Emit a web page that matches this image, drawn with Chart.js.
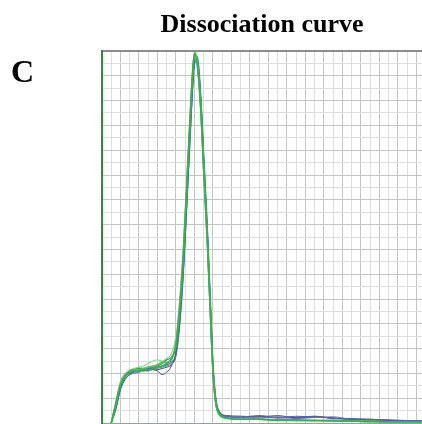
<!DOCTYPE html>
<html>
<head>
<meta charset="utf-8">
<script src="https://cdn.jsdelivr.net/npm/chart.js@4.4.1/dist/chart.umd.min.js"></script>
<style>
    body { margin: 0; background: #fff; }
    #wrap { position: relative; width: 422px; height: 424px; overflow: hidden; }
    #panel {
        position: absolute; left: 11px; top: 53px;
        font: bold 32px "Liberation Serif", "Times New Roman", serif;
        color: #000;
    }
</style>
</head>
<body>
<div id="wrap">
    <canvas id="meltChart" width="422" height="424"></canvas>
    <div id="panel">C</div>
</div>
<script>
// x positions in grid columns (shared by all wells)
const xVals = [1.0, 1.5, 2.0, 2.5, 3.0, 3.5, 4.0, 4.5, 5.0, 5.5, 6.0, 6.5, 7.0, 7.5, 8.0, 8.4, 8.8, 9.2, 9.5, 9.8,
    10.0, 10.3, 10.7, 11.0, 11.4, 11.8, 12.0, 12.3, 12.7, 13.5, 15, 17, 19, 21, 23, 25, 27, 29, 31, 33, 34.6];

// -dF/dT per well (grid rows)
const wellA = [0, 1.5, 3.1, 3.8, 4.1, 4.2, 4.2, 4.3, 4.3, 4.4, 4.5, 4.6, 4.8, 5.1, 6.3, 9.2, 13.5, 19.5, 24.0, 28.2,
    29.8, 29.0, 25.2, 20.5, 14.6, 7.4, 4.2, 1.7, 0.7, 0.4, 0.3, 0.3, 0.25, 0.25, 0.2, 0.2, 0.15, 0.15, 0.1, 0.1, 0.1];
const wellB = [0, 1.2, 2.8, 3.7, 4.0, 4.2, 4.3, 4.3, 4.4, 4.4, 4.5, 4.6, 4.7, 4.9, 5.6, 8.2, 12.4, 18.2, 22.8, 27.2,
    29.2, 29.4, 26.0, 21.5, 15.6, 8.4, 4.8, 2.0, 0.9, 0.55, 0.5, 0.6, 0.45, 0.55, 0.5, 0.4, 0.35, 0.3, 0.25, 0.2, 0.2];
const wellC = [0, 1.4, 3.0, 3.8, 4.0, 4.2, 4.4, 4.2, 4.5, 4.3, 4.2, 3.9, 4.1, 4.6, 5.8, 8.6, 12.8, 18.8, 23.4, 27.6,
    29.0, 29.2, 25.6, 21.0, 15.0, 7.8, 4.4, 1.8, 0.8, 0.6, 0.55, 0.5, 0.6, 0.4, 0.5, 0.4, 0.3, 0.25, 0.2, 0.15, 0.15];
const wellD = [0, 1.8, 3.4, 4.0, 4.3, 4.4, 4.5, 4.6, 4.8, 5.0, 5.1, 5.0, 5.2, 5.6, 7.0, 10.0, 14.4, 20.4, 24.8, 28.6,
    29.6, 28.6, 24.6, 19.8, 14.0, 7.0, 3.9, 1.5, 0.6, 0.35, 0.3, 0.3, 0.25, 0.2, 0.2, 0.2, 0.15, 0.1, 0.1, 0.1, 0.1];
const wellE = [0, 1.3, 2.9, 3.6, 3.9, 4.0, 4.1, 4.2, 4.2, 4.3, 4.4, 4.5, 4.6, 4.8, 5.4, 7.8, 12.0, 17.8, 22.4, 26.8,
    28.8, 29.6, 26.4, 21.8, 15.8, 8.6, 5.0, 2.1, 0.9, 0.5, 0.45, 0.4, 0.5, 0.35, 0.45, 0.5, 0.3, 0.3, 0.2, 0.2, 0.15];
const wellF = [0, 1.6, 3.2, 3.9, 4.1, 4.3, 4.3, 4.4, 4.5, 4.6, 4.7, 4.9, 4.9, 5.2, 6.5, 9.6, 13.9, 19.8, 24.4, 28.4,
    29.9, 29.2, 25.4, 20.8, 14.8, 7.6, 4.3, 1.6, 0.65, 0.4, 0.3, 0.3, 0.25, 0.2, 0.2, 0.2, 0.15, 0.15, 0.1, 0.1, 0.1];
const wellG = [0, 1.1, 2.7, 3.5, 3.9, 4.1, 4.1, 4.3, 4.2, 4.4, 4.3, 4.4, 4.5, 4.7, 5.5, 8.0, 12.2, 18.0, 22.6, 27.0,
    29.3, 29.0, 25.8, 21.2, 15.2, 8.1, 4.6, 1.9, 0.85, 0.5, 0.45, 0.5, 0.4, 0.45, 0.55, 0.35, 0.3, 0.25, 0.2, 0.15, 0.15];
const wellH = [0, 1.5, 3.0, 3.8, 4.2, 4.3, 4.4, 4.4, 4.5, 4.5, 4.6, 4.8, 5.1, 5.3, 6.2, 9.0, 13.2, 19.2, 23.8, 28.0,
    29.7, 29.1, 25.0, 20.2, 14.4, 7.3, 4.1, 1.6, 0.7, 0.4, 0.3, 0.3, 0.2, 0.2, 0.2, 0.15, 0.15, 0.1, 0.1, 0.1, 0.1];

// Chart.js paints the first dataset on top, so greens go first
const wells = [
    { data: wellA, color: '#3cae4c', width: 1.6 },
    { data: wellF, color: '#55c065', width: 1.4 },
    { data: wellH, color: '#35a45e', width: 1.4 },
    { data: wellD, color: '#8ad88a', width: 1.2 },
    { data: wellB, color: '#4a68ae', width: 1.1 },
    { data: wellC, color: '#5b4f8e', width: 1 },
    { data: wellE, color: '#6a7cc0', width: 1 },
    { data: wellG, color: '#3e4a7a', width: 1 },
];

function toPoints(ys) {
    const pts = [];
    for (let i = 0; i < xVals.length; i++) {
        pts.push({ x: xVals[i], y: ys[i] });
    }
    return pts;
}

const gridColor = (ctx) => (ctx.index % 2 === 0 ? '#c4c4c4' : '#dedede');

const ctx = document.getElementById('meltChart').getContext('2d');
const chart = new Chart(ctx, {
    type: 'line',
    data: {
        datasets: wells.map((w) => ({
            data: toPoints(w.data),
            borderColor: w.color,
            borderWidth: w.width,
            pointRadius: 0,
            fill: false,
            cubicInterpolationMode: 'monotone',
        })),
    },
    options: {
        responsive: false,
        animation: false,
        devicePixelRatio: 1,
        layout: { padding: { left: 102, right: 0, top: 0, bottom: 1 } },
        plugins: {
            legend: { display: false },
            tooltip: { enabled: false },
            title: {
                display: true,
                text: 'Dissociation curve',
                color: '#000',
                fullSize: false,
                font: { family: '"Liberation Serif", "Times New Roman", serif', size: 26, weight: 'bold', lineHeight: 1.2 },
                padding: { top: 10, bottom: 9.8 },
            },
        },
        scales: {
            x: {
                type: 'linear',
                min: 0,
                max: 34.6,
                ticks: { display: false, stepSize: 1, includeBounds: false },
                grid: { color: gridColor, lineWidth: 1, drawTicks: false },
                border: { color: '#6cc06c', width: 1 },
            },
            xTop: {
                type: 'linear',
                position: 'top',
                min: 0,
                max: 34.6,
                ticks: { display: false },
                grid: { display: false, drawTicks: false },
                border: { color: '#8c8c8c', width: 2 },
            },
            y: {
                min: 0,
                max: 30,
                ticks: { display: false, stepSize: 1 },
                grid: { color: gridColor, lineWidth: 1, drawTicks: false },
                border: { color: '#2f8a3a', width: 2 },
            },
        },
    },
});
</script>
</body>
</html>
